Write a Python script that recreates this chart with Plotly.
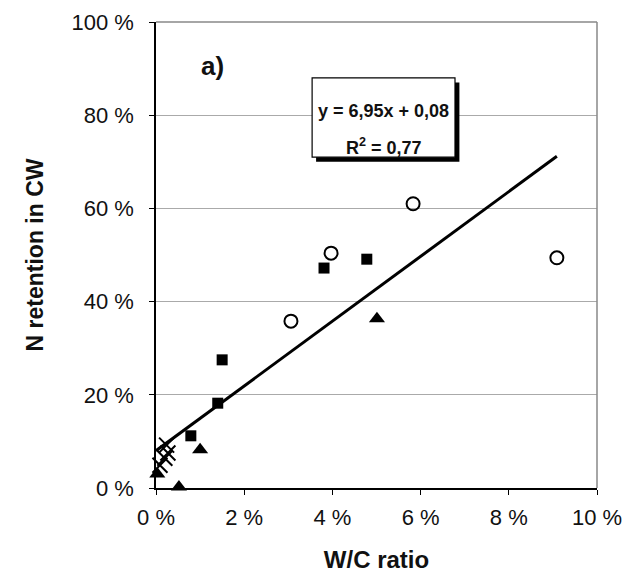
import plotly.graph_objects as go

# Data (fractions; axis formatted as %)
circ_x = [0.0306, 0.0397, 0.0583, 0.0909]
circ_y = [0.358, 0.504, 0.610, 0.494]
sq_x = [0.0381, 0.0478, 0.0150, 0.0140, 0.0079]
sq_y = [0.472, 0.491, 0.275, 0.182, 0.112]
tri_x = [0.0501, 0.0100, 0.0052, 0.0003]
tri_y = [0.363, 0.082, 0.002, 0.030]
x_x = [0.0024, 0.0027, 0.0020, 0.0009]
x_y = [0.092, 0.075, 0.064, 0.049]
slope, intercept, r2 = 6.95, 0.08, 0.77
line_x = [0.0, 0.0909]
line_y = [intercept + slope * v for v in line_x]
x_ticks = [0, 0.02, 0.04, 0.06, 0.08, 0.10]
x_labels = ["0 %", "2 %", "4 %", "6 %", "8 %", "10 %"]
y_ticks = [0, 0.2, 0.4, 0.6, 0.8, 1.0]
y_labels = ["0 %", "20 %", "40 %", "60 %", "80 %", "100 %"]

FONT = "Liberation Sans, Arial, sans-serif"

fig = go.Figure()
fig.add_trace(go.Scatter(x=line_x, y=line_y, mode="lines",
                         line=dict(color="black", width=3), showlegend=False))
fig.add_trace(go.Scatter(x=x_x, y=x_y, mode="markers",
                         marker=dict(symbol="x-thin-open", size=15, color="black",
                                     line=dict(color="black", width=2)),
                         showlegend=False, cliponaxis=False))
fig.add_trace(go.Scatter(x=circ_x, y=circ_y, mode="markers",
                         marker=dict(symbol="circle-open", size=13, color="black",
                                     line=dict(color="black", width=2)),
                         showlegend=False, cliponaxis=False))
fig.add_trace(go.Scatter(x=sq_x, y=sq_y, mode="markers",
                         marker=dict(symbol="square", size=11, color="black"),
                         showlegend=False, cliponaxis=False))
fig.add_trace(go.Scatter(x=tri_x, y=tri_y, mode="markers",
                         marker=dict(symbol="triangle-up", size=14, color="black"),
                         showlegend=False, cliponaxis=False))

fig.update_layout(
    width=641, height=575,
    margin=dict(l=156, r=44, t=22, b=87),
    paper_bgcolor="white", plot_bgcolor="white",
    font=dict(family=FONT, size=22, color="#111111"),
    xaxis=dict(range=[0, 0.10], tickvals=x_ticks, ticktext=x_labels, automargin=False,
               showgrid=False, zeroline=False, showline=True, linecolor="black", linewidth=1.5,
               ticks="outside", ticklen=5, tickcolor="black", ticklabelstandoff=4,
               title=dict(text="<b>W/C ratio</b>", font=dict(size=24), standoff=22)),
    yaxis=dict(range=[0, 1.0], tickvals=y_ticks, ticktext=y_labels, automargin=False,
               showgrid=True, gridcolor="#aaaaaa", gridwidth=1, zeroline=False,
               showline=True, linecolor="black", linewidth=1.5,
               ticks="outside", ticklen=5, tickcolor="black", ticklabelstandoff=11,
               title=dict(text="<b>N retention in CW</b>", font=dict(size=23), standoff=21)),
    shapes=[
        dict(type="line", xref="paper", yref="paper", x0=1, x1=1, y0=0, y1=1,
             line=dict(color="#888888", width=1.5)),
        dict(type="line", xref="paper", yref="paper", x0=0, x1=1, y0=1, y1=1,
             line=dict(color="#888888", width=1.5)),
        dict(type="rect", xref="paper", yref="paper", x0=0.363, x1=0.688, y0=0.700, y1=0.870,
             fillcolor="black", line=dict(width=0)),
        dict(type="rect", xref="paper", yref="paper", x0=0.354, x1=0.678, y0=0.710, y1=0.880,
             fillcolor="white", line=dict(color="black", width=1.2)),
    ],
    annotations=[
        dict(xref="paper", yref="paper", x=0.516, y=0.835, showarrow=False,
             text=f"<b>y = {slope:.2f}x + {intercept:.2f}</b>".replace(".", ","),
             font=dict(size=18)),
        dict(xref="paper", yref="paper", x=0.516, y=0.762, showarrow=False,
             text=f"<b>R<sup>2</sup> = {r2:.2f}</b>".replace(".", ","),
             font=dict(size=18)),
        dict(xref="paper", yref="paper", x=0.098, y=0.942, showarrow=False,
             text="<b>a)</b>", font=dict(size=26)),
    ],
)

fig.write_html("out.html")
